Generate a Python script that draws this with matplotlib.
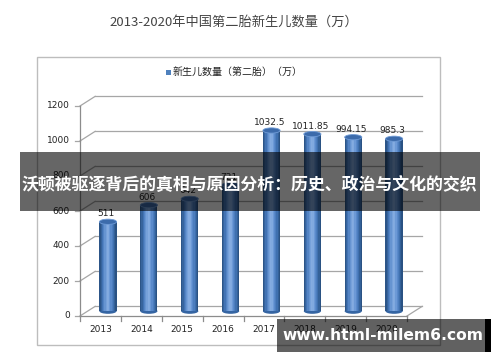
import matplotlib
matplotlib.use('Agg')
import matplotlib.pyplot as plt
import numpy as np
from matplotlib.patches import Rectangle, Ellipse
from matplotlib.colors import LinearSegmentedColormap

plt.rcParams['font.family'] = ['Noto Sans CJK SC', 'DejaVu Sans']

years = ['2013', '2014', '2015', '2016', '2017', '2018', '2019', '2020']
births = [511, 606, 642, 721, 1032.5, 1011.85, 994.15, 985.3]
labels = ['511', '606', '642', '721', '1032.5', '1011.85', '994.15', '985.3']
yticks = [0, 200, 400, 600, 800, 1000, 1200]

title = '2013-2020年中国第二胎新生儿数量（万）'
legend_text = '新生儿数量（第二胎）（万）'
banner = '沃顿被驱逐背后的真相与原因分析：历史、政治与文化的交织'
site = 'www.html-milem6.com'

fig = plt.figure(figsize=(5, 3.62), dpi=100)
W, H = 500, 362

def px(x0, y0, x1, y1):
    # pixel box (top-left origin) -> figure fraction box
    return [x0 / W, 1 - y1 / H, (x1 - x0) / W, (y1 - y0) / H]

# chart frame
fig.add_artist(Rectangle((37 / W, 1 - 345 / H), 403 / W, 288 / H, transform=fig.transFigure,
                         fill=False, edgecolor='#bdbdbd', lw=1))

ax = fig.add_axes(px(80, 106, 407, 316))
ax.set_xlim(-0.5, 7.5)
ax.set_ylim(0, 1200)
ax.axis('off')

dx = 0.37   # depth in data units (~15 px)
dy = 55     # depth in data units (~10 px)
gcol = '#a6a6a6'

# back wall grid and left wall slants
for v in yticks:
    ax.plot([-0.5 + dx, 7.5 + dx], [v + dy, v + dy], color=gcol, lw=0.9, clip_on=False, zorder=1)
    ax.plot([-0.5, -0.5 + dx], [v, v + dy], color=gcol, lw=0.9, clip_on=False, zorder=1)
    ax.plot([-0.62, -0.5], [v, v], color=gcol, lw=0.9, clip_on=False)
    ax.text(-0.75, v, str(v), ha='right', va='center', fontsize=6.5, color='#222222',
            family='DejaVu Sans')
# floor
ax.plot([7.5, 7.5 + dx], [0, dy], color=gcol, lw=0.9, clip_on=False, zorder=1)
ax.plot([-0.5, 7.5], [0, 0], color='#8c8c8c', lw=0.9, clip_on=False, zorder=5)
ax.plot([-0.5, -0.5], [0, 1200], color='#8c8c8c', lw=0.9, clip_on=False, zorder=5)
for i in range(9):
    ax.plot([i - 0.5, i - 0.5], [0, -28], color='#8c8c8c', lw=0.9, clip_on=False)

# cylinders
cmap = LinearSegmentedColormap.from_list('cyl', ['#2c5588', '#4476b8', '#6d9ad6', '#8ab0e3',
                                                 '#5f8fd0', '#4173b3', '#2a5283'])
bw = 0.42
n = 14
xs = np.arange(len(years))
for i, v in enumerate(births):
    cx = xs[i] + dx / 2
    base = dy / 2
    ax.add_patch(Ellipse((cx, base), bw, 30, facecolor='#3565a3', edgecolor='none', zorder=3))
    for k in range(n):
        ax.bar(cx - bw / 2 + (k + 0.5) * bw / n, v, width=bw / n + 0.002, bottom=base,
               color=cmap(k / (n - 1)), edgecolor='none', zorder=3)
    ax.add_patch(Ellipse((cx, base + v), bw, 30, facecolor='#3c6bab', edgecolor='#6f9bd6',
                         lw=0.6, zorder=4))
    ax.text(cx - 0.05, base + v + 45, labels[i], ha='center', va='center', fontsize=6.5,
            color='#222222', family='DejaVu Sans', zorder=6)
    ax.text(xs[i], -80, years[i], ha='center', va='center', fontsize=6.5, color='#222222',
            family='DejaVu Sans')

# titles
fig.text(234 / W, 1 - 22 / H, title, ha='center', va='center', fontsize=9.5, color='#444444')
fig.add_artist(Rectangle((166 / W, 1 - 75 / H), 5 / W, 5 / H, transform=fig.transFigure,
                         facecolor='#4f81bd', edgecolor='none'))
fig.text(173 / W, 1 - 72 / H, legend_text, ha='left', va='center', fontsize=7.2, color='#222222')

# overlay banner
fig.add_artist(Rectangle((20 / W, 1 - 211 / H), 460 / W, 59 / H, transform=fig.transFigure,
                         facecolor='black', alpha=0.6, edgecolor='none', zorder=10))
fig.text(249 / W, 1 - 185 / H, banner, ha='center', va='center', fontsize=12.2,
         fontweight='bold', color='white', zorder=11)

# watermark
fig.add_artist(Rectangle((277 / W, 1 - 352 / H), 208 / W, 33 / H, transform=fig.transFigure,
                         facecolor='black', alpha=0.62, edgecolor='none', zorder=10))
fig.add_artist(Rectangle((485 / W, 1 - 352 / H), 6 / W, 33 / H, transform=fig.transFigure,
                         facecolor='black', edgecolor='none', zorder=10))
fig.text(383 / W, 1 - 335 / H, site, ha='center', va='center', fontsize=11.2,
         fontweight='bold', color='white', family='DejaVu Sans', zorder=11)

fig.savefig('out.png', dpi=100)
